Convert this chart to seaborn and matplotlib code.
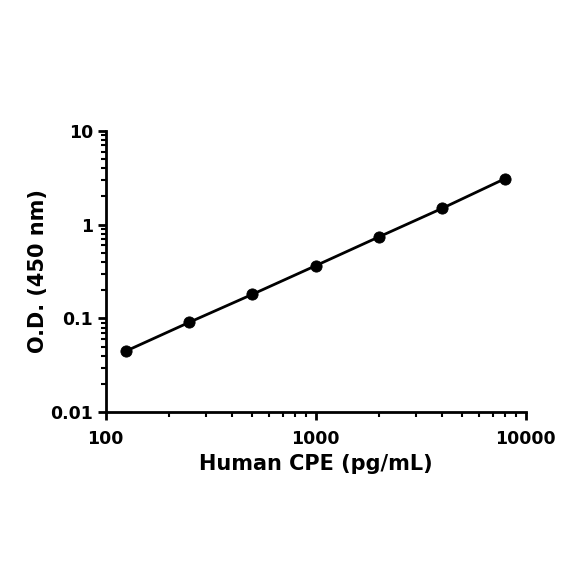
import numpy as np
import pandas as pd
import seaborn as sns
import matplotlib.pyplot as plt
from matplotlib.ticker import LogLocator, FixedLocator, FixedFormatter, NullFormatter

# standard curve readings
conc = [125, 250, 500, 1000, 2000, 4000, 8000]
od = [0.045, 0.091, 0.181, 0.365, 0.74, 1.49, 3.1]

x_ticks = [100, 1000, 10000]
x_tick_labels = ["100", "1000", "10000"]
y_ticks = [0.01, 0.1, 1, 10]
y_tick_labels = ["0.01", "0.1", "1", "10"]

df = pd.DataFrame({"conc": conc, "od": od})

sns.set_style("ticks", {"axes.edgecolor": "black", "text.color": "black",
                        "axes.labelcolor": "black", "xtick.color": "black",
                        "ytick.color": "black"})
plt.rcParams["font.family"] = ["DejaVu Sans"]
plt.rcParams["font.weight"] = "bold"

fig = plt.figure(figsize=(5.84, 5.84), dpi=100)
ax = fig.add_axes([0.181, 0.294, 0.719, 0.482])

sns.lineplot(data=df, x="conc", y="od", ax=ax, color="black", linewidth=2)
sns.scatterplot(data=df, x="conc", y="od", ax=ax, color="black", s=65,
                edgecolor="black", zorder=3)

ax.set_xscale("log")
ax.set_yscale("log")
ax.set_xlim(100, 10000)
ax.set_ylim(0.01, 10)

ax.xaxis.set_major_locator(FixedLocator(x_ticks))
ax.xaxis.set_major_formatter(FixedFormatter(x_tick_labels))
ax.yaxis.set_major_locator(FixedLocator(y_ticks))
ax.yaxis.set_major_formatter(FixedFormatter(y_tick_labels))
ax.xaxis.set_minor_locator(LogLocator(base=10, subs=np.arange(2, 10)))
ax.yaxis.set_minor_locator(LogLocator(base=10, subs=np.arange(2, 10)))
ax.xaxis.set_minor_formatter(NullFormatter())
ax.yaxis.set_minor_formatter(NullFormatter())

sns.despine(ax=ax)
for side in ["left", "bottom"]:
    ax.spines[side].set_linewidth(2)
ax.tick_params(which="major", length=6, width=2, labelsize=12.5, direction="out")
ax.tick_params(axis="x", which="major", pad=7)
ax.tick_params(axis="y", which="major", pad=3)
ax.tick_params(which="minor", length=3.5, width=1.5, direction="out")
for lab in ax.get_xticklabels() + ax.get_yticklabels():
    lab.set_fontweight("bold")

ax.set_xlabel("Human CPE (pg/mL)", fontsize=15, fontweight="bold", labelpad=4)
ax.set_ylabel("O.D. (450 nm)", fontsize=15, fontweight="bold", labelpad=2)

fig.savefig("out.png", dpi=100)
